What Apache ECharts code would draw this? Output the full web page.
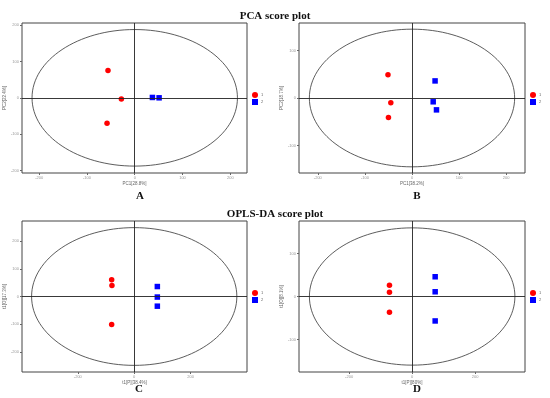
<!DOCTYPE html>
<html><head><meta charset="utf-8">
<script src="https://cdn.jsdelivr.net/npm/echarts@6/dist/echarts.min.js"></script>
<style>html,body{margin:0;padding:0;background:#fff}#c{width:550px;height:398px}</style>
</head><body><div id="c"></div>
<script>
// Panel data
const panels = ['A','B','C','D'];
const xNames = ['PC1[28.8%]','PC1[38.2%]','t1[P][38.4%]','t1[P][80%]'];
const yNames = ['PC2[22.4%]','PC2[18.7%]','t1[O][17.3%]','t1[O][8.1%]'];
const redA = [[-56,75],[-28,-3],[-58,-70]];
const blueA = [[37,1],[51,0]];
const redB = [[-51,49],[-45,-10],[-50,-41]];
const blueB = [[49,36],[45,-8],[52,-25]];
const redC = [[-80,61],[-79,40],[-80,-101]];
const blueC = [[82,36],[82,-2],[82,-35]];
const redD = [[-72,26],[-72,10],[-72,-37]];
const blueD = [[73,46],[73,11],[73,-57]];
const ellipses = [[215,188],[218,145],[364,249],[326,160]];
const xRanges = [[-236,235],[-240,240],[-398,400],[-359,358]];
const yRanges = [[-207,206],[-158,158],[-273,273],[-176,176]];
const xTicks = [[-200,-100,0,100,200],[-200,-100,0,100,200],[-200,0,200],[-200,0,200]];
const yTicks = [[-200,-100,0,100,200],[-100,0,100],[-200,-100,0,100,200],[-100,0,100]];
const reds = [redA,redB,redC,redD];
const blues = [blueA,blueB,blueC,blueD];

const grids = [
  {left:22, top:23, width:225, height:150},
  {left:299, top:23, width:226, height:150},
  {left:22, top:221, width:225, height:151},
  {left:299, top:221, width:226, height:151}
];
const legendPos = [[252,92],[530,92],[252,290],[530,290]];
const labelPos = [[135,186],[412,186],[134,379],[412,379]];

const tickLabel = {fontSize:4, color:'#999'};
const option = {
  animation:false,
  backgroundColor:'#fff',
  title:[
    {text:'PCA score plot', left:'center', top:6, textStyle:{fontFamily:'Liberation Serif', fontWeight:'bold', fontSize:11, color:'#111'}},
    {text:'OPLS-DA score plot', left:'center', top:204, textStyle:{fontFamily:'Liberation Serif', fontWeight:'bold', fontSize:11, color:'#111'}}
  ].concat(panels.map((p,i)=>({text:p, left:labelPos[i][0], top:labelPos[i][1], textAlign:'center',
      textStyle:{fontFamily:'Liberation Serif', fontWeight:'bold', fontSize:11, color:'#111'}}))),
  grid: grids.map(g=>Object.assign({show:true, borderColor:'#444', borderWidth:1, backgroundColor:'transparent'}, g)),
  legend: legendPos.map(p=>({
    data:[{name:'1', icon:'circle'},{name:'2', icon:'rect'}],
    orient:'vertical', left:p[0], top:p[1], itemWidth:6, itemHeight:6, itemGap:1,
    textStyle:{fontSize:4, color:'#666', padding:[0,0,0,-2]}, selectedMode:false, padding:0
  })),
  xAxis: grids.map((g,i)=>({
    type:'value', gridIndex:i, min:xRanges[i][0], max:xRanges[i][1],
    name:xNames[i], nameLocation:'middle', nameGap:8, nameTextStyle:{fontSize:4.5, color:'#666'},
    axisLine:{show:false, onZero:false}, splitLine:{show:false},
    axisTick:{show:true, length:2, customValues:xTicks[i], lineStyle:{color:'#666'}},
    axisLabel:Object.assign({customValues:xTicks[i], margin:3}, tickLabel)
  })),
  yAxis: grids.map((g,i)=>({
    type:'value', gridIndex:i, min:yRanges[i][0], max:yRanges[i][1],
    name:yNames[i], nameLocation:'middle', nameGap:11, nameTextStyle:{fontSize:4.5, color:'#666'},
    axisLine:{show:false, onZero:false}, splitLine:{show:false},
    axisTick:{show:true, length:2, customValues:yTicks[i], lineStyle:{color:'#666'}},
    axisLabel:Object.assign({customValues:yTicks[i], margin:3}, tickLabel)
  })),
  series: []
};
panels.forEach((p,i)=>{
  option.series.push({
    type:'custom', name:'ellipse'+p, xAxisIndex:i, yAxisIndex:i, silent:true, z:1,
    data:[[0,0,ellipses[i][0],ellipses[i][1]]],
    encode:{x:0,y:1},
    renderItem:function(params, api){
      const c = api.coord([api.value(0), api.value(1)]);
      const s = api.size([api.value(2), api.value(3)]);
      return {type:'ellipse', shape:{cx:c[0], cy:c[1], rx:s[0], ry:s[1]},
        style:{fill:null, stroke:'#333', lineWidth:0.8}};
    },
    markLine:{silent:true, symbol:'none', label:{show:false},
      lineStyle:{color:'#222', type:'solid', width:0.9},
      data:[{xAxis:0},{yAxis:0}]}
  });
  option.series.push({
    type:'scatter', name:'1', xAxisIndex:i, yAxisIndex:i, symbol:'circle', symbolSize:5.5, z:3,
    itemStyle:{color:'#ff0000', opacity:1}, data:reds[i]
  });
  option.series.push({
    type:'scatter', name:'2', xAxisIndex:i, yAxisIndex:i, symbol:'rect', symbolSize:5.5, z:3,
    itemStyle:{color:'#0000ff', opacity:1}, data:blues[i]
  });
});
const chart = echarts.init(document.getElementById('c'), null, {renderer:'canvas'});
chart.setOption(option);
</script>
</body></html>
